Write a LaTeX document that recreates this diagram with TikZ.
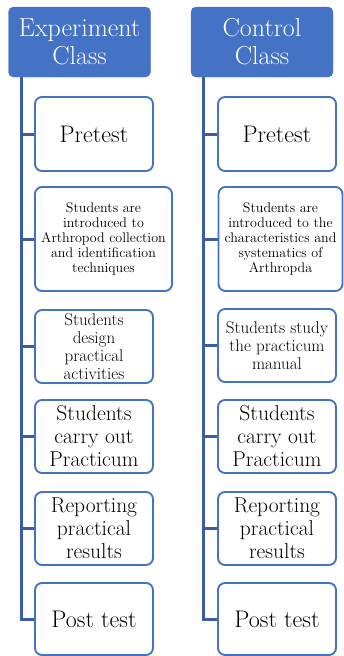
\documentclass[tikz,border=0pt]{standalone}
\usepackage{fontspec}
\begin{document}
\definecolor{hdrblue}{HTML}{4472C4}
\definecolor{edgeblue}{HTML}{4472C4}
\definecolor{spineblue}{HTML}{3A5DA8}
\tikzset{
  header/.style={fill=hdrblue, draw=hdrblue, rounded corners=5pt, text=white,
    align=center, inner sep=0pt, font=\fontsize{26}{28}\selectfont,
    minimum width=142pt, minimum height=70pt},
  stepbox/.style={draw=edgeblue, line width=1.9pt, fill=white, rounded corners=7pt,
    align=center, inner sep=0pt, minimum height=73pt},
  big/.style={font=\fontsize{24}{26}\selectfont},
  mid/.style={font=\fontsize{21.5}{23}\selectfont},
  medium/.style={font=\fontsize{17}{18}\selectfont},
  small/.style={font=\fontsize{14}{14.8}\selectfont},
  spine/.style={draw=spineblue, line width=3pt},
}
\begin{tikzpicture}[x=1pt, y=-1pt]
\useasboundingbox (0,0) rectangle (344,656);

% column headers
\node[header] (lh) at (79.5,42) {Experiment\\Class};
\node[header] (rh) at (262,42) {Control\\Class};

% spine start points under the headers
\coordinate (ls) at (21.5,77);
\coordinate (rs) at (203.5,77);

% experiment class steps
\node[stepbox, big, minimum width=118pt, minimum height=74pt] (l1) at (94,134) {Pretest};
\node[stepbox, small, minimum width=137pt, minimum height=104pt] (l2) at (103.5,239)
  {Students are\\introduced to\\Arthropod collection\\and identification\\techniques};
\node[stepbox, medium, minimum width=118pt] (l3) at (94,346.5) {Students\\design\\practical\\activities};
\node[stepbox, mid, minimum width=118pt] (l4) at (94,436.5) {Students\\carry out\\Practicum};
\node[stepbox, mid, minimum width=118pt] (l5) at (94,528.5) {Reporting\\practical\\results};
\node[stepbox, big, minimum width=118pt, minimum height=72pt] (l6) at (94,619) {Post test};

% control class steps
\node[stepbox, big, minimum width=118pt, minimum height=74pt] (r1) at (277,134) {Pretest};
\node[stepbox, small, minimum width=124pt, minimum height=104pt] (r2) at (280.5,239)
  {Students are\\introduced to the\\characteristics and\\systematics of\\Arthropda};
\node[stepbox, medium, minimum width=118pt] (r3) at (277,345.5) {Students study\\the practicum\\manual};
\node[stepbox, mid, minimum width=118pt] (r4) at (277,436.5) {Students\\carry out\\Practicum};
\node[stepbox, mid, minimum width=118pt] (r5) at (277,528.5) {Reporting\\practical\\results};
\node[stepbox, big, minimum width=118pt, minimum height=72pt] (r6) at (277,619) {Post test};

% experiment spine and branches
\draw[spine] (ls) |- (l6.west);
\foreach \b in {l1,l2,l3,l4,l5}
  \draw[spine] (ls |- \b.west) -- (\b.west);

% control spine and branches
\draw[spine] (rs) |- (r6.west);
\foreach \b in {r1,r2,r3,r4,r5}
  \draw[spine] (rs |- \b.west) -- (\b.west);
\end{tikzpicture}
\end{document}
